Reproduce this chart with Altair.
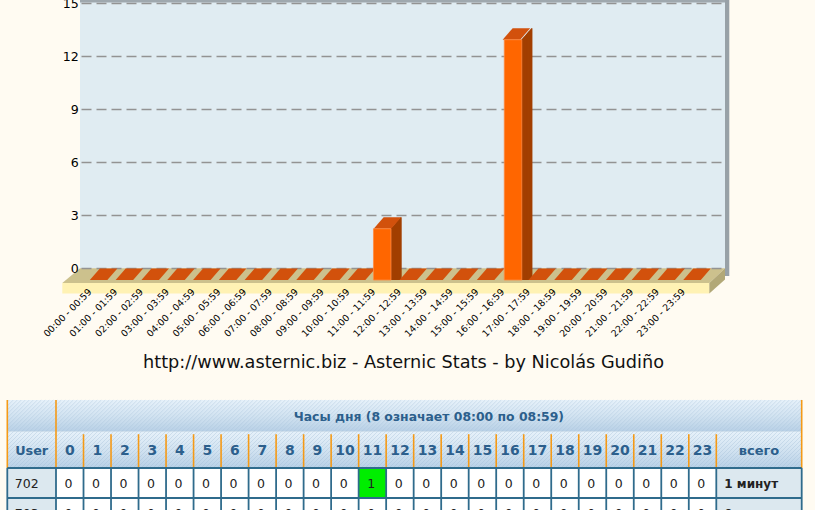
import altair as alt
import pandas as pd

# ---------------- data ----------------
hour_labels = ["00:00 - 00:59", "01:00 - 01:59", "02:00 - 02:59", "03:00 - 03:59",
               "04:00 - 04:59", "05:00 - 05:59", "06:00 - 06:59", "07:00 - 07:59",
               "08:00 - 08:59", "09:00 - 09:59", "10:00 - 10:59", "11:00 - 11:59",
               "12:00 - 12:59", "13:00 - 13:59", "14:00 - 14:59", "15:00 - 15:59",
               "16:00 - 16:59", "17:00 - 17:59", "18:00 - 18:59", "19:00 - 19:59",
               "20:00 - 20:59", "21:00 - 21:59", "22:00 - 22:59", "23:00 - 23:59"]
hour_values = [0, 0, 0, 0, 0, 0, 0, 0, 0, 0, 0, 2.9,
               0, 0, 0, 0, 13.6, 0, 0, 0, 0, 0, 0, 0]
y_ticks = [0, 3, 6, 9, 12, 15]
credit = "http://www.asternic.biz - Asternic Stats - by Nicolás Gudiño"

table_caption = "Часы дня (8 означает 08:00 по 08:59)"
table_hours = ["0", "1", "2", "3", "4", "5", "6", "7", "8", "9", "10", "11",
               "12", "13", "14", "15", "16", "17", "18", "19", "20", "21", "22", "23"]
table_users = ["702", "703"]
counts_702 = [0, 0, 0, 0, 0, 0, 0, 0, 0, 0, 0, 1, 0, 0, 0, 0, 0, 0, 0, 0, 0, 0, 0, 0]
counts_703 = [0, 0, 0, 0, 0, 0, 0, 0, 0, 0, 0, 0, 0, 0, 0, 0, 0, 0, 0, 0, 0, 0, 0, 0]
table_totals = ["1 минут", "0 минут"]

# ---------------- styles ----------------
BG = "#FFFBF2"
WALL = "#E0ECF2"
FRAME = "#9FA8AE"
FLOOR_TOP = "#CCC18D"
FLOOR_FRONT = "#FFF2B4"
FLOOR_SIDE = "#B2A877"
FRONT = "#FF6600"
TOP = "#D2510C"
SIDE = "#A23F02"
GRID = "#939393"
FONT = "DejaVu Sans"
HDR_TXT = "#2C5F8C"
ORANGE = "#F59A16"
TEAL = "#2F6B8C"
CELL_BG = "#DCE8EF"
GREEN = "#00EE00"
HATCH = "#9FBCD6"

DX, DY = 10.0, 11.5          # 3-D depth of bars (pixels)
HALF = 8.75                  # half bar width (pixels)

one = pd.DataFrame({"k": [0]})
layers = []


def deco_rect(x, x2, y, y2, color):
    return alt.Chart(one).mark_rect(color=color).encode(
        x=alt.value(x), x2=alt.value(x2), y=alt.value(y), y2=alt.value(y2))


def deco_poly(x, y, path, color):
    return alt.Chart(one).mark_point(shape=path, size=4, filled=True, color=color,
                                     opacity=1, strokeWidth=0).encode(
        x=alt.value(x), y=alt.value(y))


# ---------------- 3-D frame ----------------
layers.append(deco_rect(80, 725, 0, 268.3, WALL))
layers.append(deco_rect(80, 729, 0, 2.5, FRAME))
layers.append(deco_rect(725, 729.3, 0, 276, "#98A1A7"))
layers.append(deco_poly(80, 268.3, "M0,0 L645,0 L629.3,14.7 L-17.7,14.7 Z", FLOOR_TOP))
layers.append(deco_rect(62.3, 709.3, 283, 293.5, FLOOR_FRONT))
layers.append(deco_poly(709.3, 283, "M0,0 L15.7,-14.7 L15.7,-3.5 L0,10.5 Z", FLOOR_SIDE))

# ---------------- scales ----------------
bar_df = pd.DataFrame({"hour": hour_labels, "value": hour_values})
tick_df = pd.DataFrame({"tick": y_ticks})


def xs():
    return alt.Scale(domain=hour_labels, range=[85.7, 704.9],
                     paddingInner=0.331, paddingOuter=0)


def ys():
    return alt.Scale(domain=[0, 15], range=[280, 15], nice=False, zero=False)


X = alt.X("hour:N", scale=xs(), axis=None, sort=hour_labels)
Y = alt.Y("value:Q", scale=ys(), axis=None)

# gridlines (drawn on the back wall)
layers.append(alt.Chart(tick_df).mark_rule(color=GRID, strokeDash=[10, 5], strokeWidth=1.6,
                                           yOffset=-DY).encode(
    y=alt.Y("tick:Q", scale=ys(), axis=None),
    x=alt.value(81.5), x2=alt.value(725)))

# y labels
layers.append(alt.Chart(tick_df).mark_text(align="right", baseline="middle", font=FONT,
                                           fontSize=12.6, color="#000000", yOffset=-DY).encode(
    y=alt.Y("tick:Q", scale=ys(), axis=None),
    x=alt.value(78.8), text="tick:Q"))

# bar side faces (swept)
nonzero = bar_df[bar_df["value"] > 0]
steps = 24
for k in range(steps + 1):
    f = k / steps
    layers.append(alt.Chart(nonzero).mark_rule(color=SIDE, strokeWidth=1.3,
                                               xOffset=HALF + DX * f,
                                               yOffset=-DY * f).encode(
        x=X, y=Y, y2=alt.datum(0)))

# bar top faces
top_path = f"M{-HALF},0 L{HALF},0 L{HALF + DX},{-DY} L{-HALF + DX},{-DY} Z"
layers.append(alt.Chart(bar_df).mark_point(shape=top_path, size=4, filled=True, color=TOP,
                                           opacity=1, strokeWidth=0).encode(x=X, y=Y))

# bar front faces
layers.append(alt.Chart(nonzero).mark_bar(color=FRONT, stroke="#FF8A40", strokeWidth=0.8).encode(
    x=X, y=Y))

# x labels
layers.append(alt.Chart(bar_df).mark_text(angle=315, align="right", baseline="middle",
                                          font=FONT, fontSize=9.4, color="#000000",
                                          xOffset=-8.5, yOffset=10.5).encode(
    x=X, y=alt.YDatum(0, scale=ys(), axis=None), text="hour:N"))

# credit line
layers.append(alt.Chart(pd.DataFrame({"t": [credit]})).mark_text(
    align="center", baseline="alphabetic", font=FONT, fontSize=17.7, color="#111111").encode(
    x=alt.value(403.5), y=alt.value(367.5), text="t:N"))

# ---------------- table ----------------
T_LEFT, T_USER, T_HOURS_END, T_RIGHT = 7.3, 56.0, 716.3, 801.7
R_H1, R_H2, R_D1, R_D2 = 400.0, 431.7, 468.0, 498.0
hour_w = (T_HOURS_END - T_USER) / len(table_hours)
edges = [T_USER + i * hour_w for i in range(len(table_hours) + 1)]
PX = dict(scale=None)

grad = alt.LinearGradient(
    gradient="linear",
    stops=[alt.GradientStop(color="#E6F1FA", offset=0),
           alt.GradientStop(color="#D2E3F1", offset=0.5),
           alt.GradientStop(color="#B8D0E6", offset=1)],
    x1=0, x2=0, y1=0, y2=1)
hdr_rows = [(T_LEFT, T_RIGHT, R_H1, R_H2), (T_LEFT, T_RIGHT, R_H2, R_D1)]
hdr_df = pd.DataFrame(hdr_rows, columns=["x0", "x1", "y0", "y1"])
layers.append(alt.Chart(hdr_df).mark_rect(color=grad).encode(
    x=alt.X("x0:Q", **PX), x2="x1:Q", y=alt.Y("y0:Q", **PX), y2="y1:Q"))

# diagonal hatch texture of the header
hatch = []
for (x0, x1, y0, y1) in hdr_rows:
    c = x0 + y0 + 2
    while c < x1 + y1:
        sx, sy = c - y1, y1
        if sx < x0:
            sx, sy = x0, c - x0
        ex, ey = c - y0, y0
        if ex > x1:
            ex, ey = x1, c - x1
        hatch.append((sx, ex, sy, ey))
        c += 4
hatch_df = pd.DataFrame(hatch, columns=["x0", "x1", "y0", "y1"])
layers.append(alt.Chart(hatch_df).mark_rule(color=HATCH, strokeWidth=0.8, opacity=0.45).encode(
    x=alt.X("x0:Q", **PX), x2="x1:Q", y=alt.Y("y0:Q", **PX), y2="y1:Q"))

# data cell backgrounds
cells = []
rows_counts = [counts_702, counts_703]
row_tops = [R_D1, R_D2]
for r, user in enumerate(table_users):
    y0, y1 = row_tops[r], row_tops[r] + 30
    cells.append((T_LEFT, T_USER, y0, y1, CELL_BG))
    for i, c in enumerate(rows_counts[r]):
        cells.append((edges[i], edges[i + 1], y0, y1, GREEN if c > 0 else "#FFFFFF"))
    cells.append((T_HOURS_END, T_RIGHT, y0, y1, CELL_BG))
cell_df = pd.DataFrame(cells, columns=["x0", "x1", "y0", "y1", "fill"])
layers.append(alt.Chart(cell_df).mark_rect().encode(
    x=alt.X("x0:Q", **PX), x2="x1:Q", y=alt.Y("y0:Q", **PX), y2="y1:Q",
    color=alt.Color("fill:N", scale=None)))

# orange header separators
olines = [(T_LEFT, T_LEFT, R_H1, R_D1), (T_USER, T_USER, R_H1, R_D1), (T_RIGHT, T_RIGHT, R_H1, R_D1)]
for e in edges[1:]:
    olines.append((e, e, R_H2 + 2.5, R_D1))
o_df = pd.DataFrame(olines, columns=["x0", "x1", "y0", "y1"])
layers.append(alt.Chart(o_df).mark_rule(color=ORANGE, strokeWidth=1.6).encode(
    x=alt.X("x0:Q", **PX), x2="x1:Q", y=alt.Y("y0:Q", **PX), y2="y1:Q"))

# teal body grid
tlines = [(T_LEFT, T_RIGHT, R_D1, R_D1), (T_LEFT, T_RIGHT, R_D2, R_D2)]
for e in [T_LEFT, T_USER] + edges[1:] + [T_RIGHT]:
    tlines.append((e, e, R_D1, 520))
t_df = pd.DataFrame(tlines, columns=["x0", "x1", "y0", "y1"])
layers.append(alt.Chart(t_df).mark_rule(color=TEAL, strokeWidth=1.8).encode(
    x=alt.X("x0:Q", **PX), x2="x1:Q", y=alt.Y("y0:Q", **PX), y2="y1:Q"))

# header texts
htxt = [(table_caption, (T_USER + T_RIGHT) / 2, (R_H1 + R_H2) / 2 + 1.5, 12.4),
        ("User", (T_LEFT + T_USER) / 2, (R_H2 + R_D1) / 2 + 1, 12.8),
        ("всего", (T_HOURS_END + T_RIGHT) / 2, (R_H2 + R_D1) / 2 + 1, 13)]
for i, h in enumerate(table_hours):
    htxt.append((h, (edges[i] + edges[i + 1]) / 2, (R_H2 + R_D1) / 2 + 1, 14))
ht_df = pd.DataFrame(htxt, columns=["t", "x", "y", "fs"])
for fs in sorted(ht_df["fs"].unique()):
    layers.append(alt.Chart(ht_df[ht_df["fs"] == fs]).mark_text(
        align="center", baseline="middle", font=FONT, fontWeight="bold",
        fontSize=float(fs), color=HDR_TXT).encode(
        x=alt.X("x:Q", **PX), y=alt.Y("y:Q", **PX), text="t:N"))

# body texts
btxt, ttxt = [], []
for r, user in enumerate(table_users):
    yc = row_tops[r] + 16
    btxt.append((user, T_LEFT + 7.5, yc))
    for i, c in enumerate(rows_counts[r]):
        btxt.append((str(c), edges[i] + 8.5, yc))
    ttxt.append((table_totals[r], T_HOURS_END + 8, yc))
bt_df = pd.DataFrame(btxt, columns=["t", "x", "y"])
tt_df = pd.DataFrame(ttxt, columns=["t", "x", "y"])
layers.append(alt.Chart(bt_df).mark_text(align="left", baseline="middle", font=FONT,
                                         fontSize=12.5, color="#222222").encode(
    x=alt.X("x:Q", **PX), y=alt.Y("y:Q", **PX), text="t:N"))
layers.append(alt.Chart(tt_df).mark_text(align="left", baseline="middle", font=FONT,
                                         fontSize=12, fontWeight="bold", color="#222222").encode(
    x=alt.X("x:Q", **PX), y=alt.Y("y:Q", **PX), text="t:N"))

chart = alt.layer(*layers).resolve_scale(x="independent", y="independent", color="independent").properties(
    width=815, height=510, background=BG, padding=0,
    autosize=alt.AutoSizeParams(type="none", contains="padding")
).configure_view(stroke=None)

chart.save("out.html", embed_options={"renderer": "svg", "actions": False})
